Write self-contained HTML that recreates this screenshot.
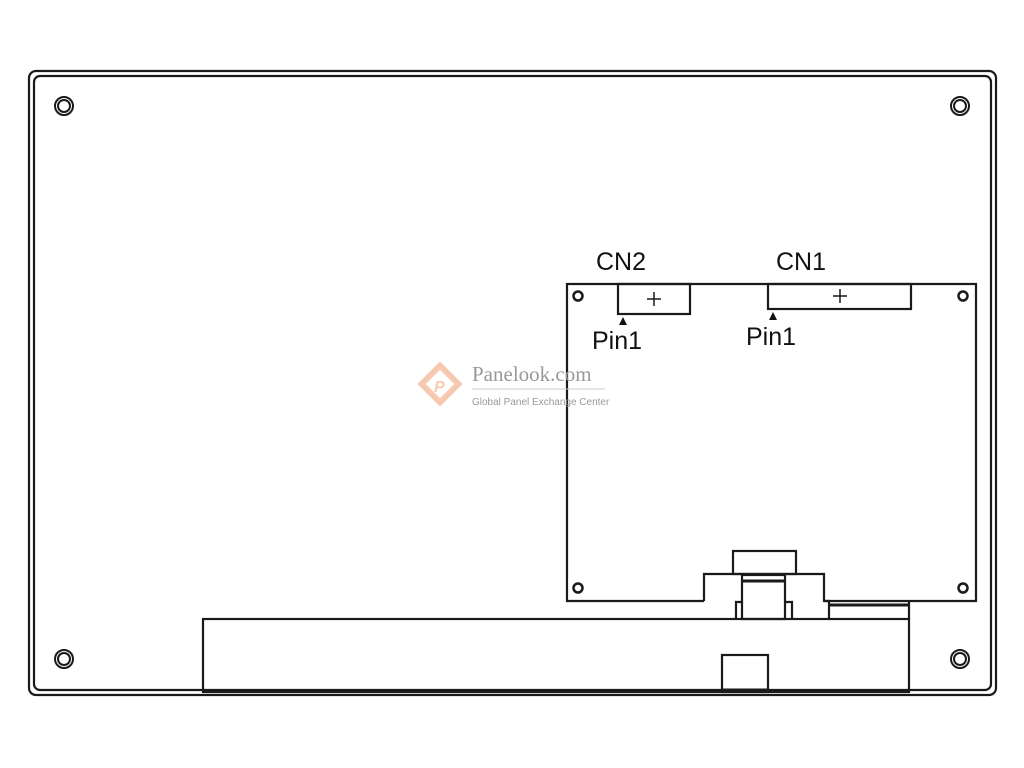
<!DOCTYPE html>
<html><head><style>html,body{margin:0;padding:0;background:#fff}svg{display:block}</style></head>
<body>
<svg width="1024" height="768" viewBox="0 0 1024 768" xmlns="http://www.w3.org/2000/svg">
<g fill="none" stroke="#1a1a1a" stroke-width="2.2">
<rect x="29" y="71" width="967" height="624" rx="7"/>
<rect x="34" y="76" width="957" height="614" rx="6"/>
<g stroke-width="2">
<circle cx="64" cy="106" r="9"/><circle cx="64" cy="106" r="6"/>
<circle cx="960" cy="106" r="9"/><circle cx="960" cy="106" r="6"/>
<circle cx="64" cy="659" r="9"/><circle cx="64" cy="659" r="6"/>
<circle cx="960" cy="659" r="9"/><circle cx="960" cy="659" r="6"/>
</g>
<polyline points="704,601 567,601 567,284 976,284 976,601 824,601 824,574 704,574 704,601"/>
<g stroke-width="2.5">
<circle cx="578" cy="296" r="4.5"/><circle cx="963" cy="296" r="4.5"/>
<circle cx="578" cy="588" r="4.5"/><circle cx="963" cy="588" r="4.5"/>
</g>
<rect x="618" y="284" width="72" height="30"/>
<rect x="768" y="284" width="143" height="25"/>
<path d="M647 299h14M654 292v14M833 296h14M840 289v14" stroke-width="1.5"/>
<rect x="733" y="551" width="63" height="23"/>
<rect x="742" y="575" width="43" height="44"/>
<line x1="742" y1="581" x2="785" y2="581" stroke-width="3"/>
<polyline points="736,619 736,602 742,602"/>
<polyline points="792,619 792,602 785,602"/>
<polyline points="824,601 829,601 829,619"/>
<line x1="829" y1="605" x2="909" y2="605" stroke-width="3"/>
<line x1="909" y1="601" x2="909" y2="619"/>
<rect x="203" y="619" width="706" height="73"/>
<rect x="722" y="655" width="46" height="37"/>
<line x1="722" y1="690" x2="768" y2="690" stroke-width="3"/>
</g>
<path d="M619 325l4-8 4 8z M769 320l4-8 4 8z" fill="#111"/>
<g font-family="Liberation Sans, sans-serif" font-size="25" fill="#111">
<text x="596" y="270">CN2</text>
<text x="776" y="270">CN1</text>
<text x="592" y="349">Pin1</text>
<text x="746" y="345">Pin1</text>
</g>
<g opacity="0.55">
<rect x="427" y="371" width="26" height="26" transform="rotate(45 440 384)" fill="none" stroke="#f4a070" stroke-width="6"/>
<text x="434" y="392" font-family="Liberation Sans, sans-serif" font-size="16" font-style="italic" font-weight="bold" fill="#f4a070">P</text>
</g>
<text x="472" y="381" font-family="Liberation Serif, serif" font-size="21" fill="#999">Panelook.com</text>
<line x1="472" y1="389" x2="605" y2="389" stroke="#ccc" stroke-width="1"/>
<text x="472" y="405" font-family="Liberation Sans, sans-serif" font-size="10" fill="#999">Global Panel Exchange Center</text>
</svg>
</body></html>
